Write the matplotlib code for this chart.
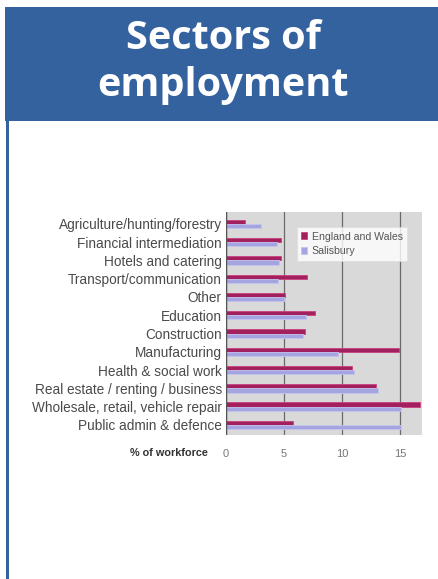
import matplotlib.pyplot as plt
import matplotlib.patches as patches
import numpy as np

sectors = ["Agriculture/hunting/forestry", "Financial intermediation",
           "Hotels and catering", "Transport/communication", "Other",
           "Education", "Construction", "Manufacturing",
           "Health & social work", "Real estate / renting / business",
           "Wholesale, retail, vehicle repair", "Public admin & defence"]
england_wales = [1.6, 4.7, 4.7, 7.0, 5.1, 7.7, 6.8, 14.9, 10.9, 12.9, 16.7, 5.8]
salisbury = [3.0, 4.4, 4.6, 4.5, 5.0, 6.9, 6.6, 9.7, 11.0, 13.1, 15.1, 15.1]
ticks = [0, 5, 10, 15]

fig = plt.figure(figsize=(4.38, 5.79), dpi=100)
fig.patch.set_facecolor("white")

# header band and left border
fig.patches.append(patches.Rectangle((5 / 438, 1 - 121 / 579), 433 / 438, 114 / 579,
                                     transform=fig.transFigure, facecolor="#34629e",
                                     edgecolor="none"))
fig.patches.append(patches.Rectangle((6 / 438, 0), 2.5 / 438, 1 - 121 / 579,
                                     transform=fig.transFigure, facecolor="#34629e",
                                     edgecolor="none"))
fig.text(0.51, 1 - 62 / 579, "Sectors of\nemployment", ha="center", va="center",
         color="white", fontsize=28.5, fontweight="bold", family="Open Sans",
         linespacing=1.24)

ax = fig.add_axes([226 / 438, 1 - 435 / 579, 196 / 438, 223 / 579])
ax.set_facecolor("#d9d9d9")

y = np.arange(len(sectors))
h = 0.23
ax.barh(y - h / 2, england_wales, height=h, color="#a3205e", edgecolor="#c8407e",
        linewidth=0.6, label="England and Wales")
ax.barh(y + h / 2, salisbury, height=h, color="#a4a4e0", edgecolor="#c4c4f0",
        linewidth=0.6, label="Salisbury")

ax.set_xlim(0, 16.9)
ax.set_ylim(len(sectors) - 0.45, -0.65)
ax.set_yticks(y)
ax.set_yticklabels(sectors, fontsize=9.8, color="#4a4a4a", family="Liberation Sans")
ax.set_xticks(ticks)
ax.set_xticklabels([str(t) for t in ticks], fontsize=8, color="#777777",
                   family="Liberation Sans")
ax.tick_params(length=0, pad=10)
ax.tick_params(axis="y", pad=3)
ax.grid(axis="x", color="#6a6a6a", linewidth=0.9)
ax.set_axisbelow(True)
for s in ax.spines.values():
    s.set_visible(False)
ax.axvline(0, color="#555555", linewidth=1)

fig.text(208 / 438, 1 - 453 / 579, "% of workforce", ha="right", va="center",
         fontsize=7.8, fontweight="bold", color="#333333", family="Liberation Sans")

leg = ax.legend(loc="upper left", bbox_to_anchor=(0.335, 0.955), frameon=True,
                fancybox=False, handlelength=0.6, handleheight=0.6,
                handletextpad=0.4, borderpad=0.4, labelspacing=0.45,
                prop={"family": "Liberation Sans", "size": 7.6})
leg.get_frame().set_edgecolor("#dddddd")
leg.get_frame().set_linewidth(0.6)
for t in leg.get_texts():
    t.set_color("#555555")

fig.savefig("out.png", dpi=100)
